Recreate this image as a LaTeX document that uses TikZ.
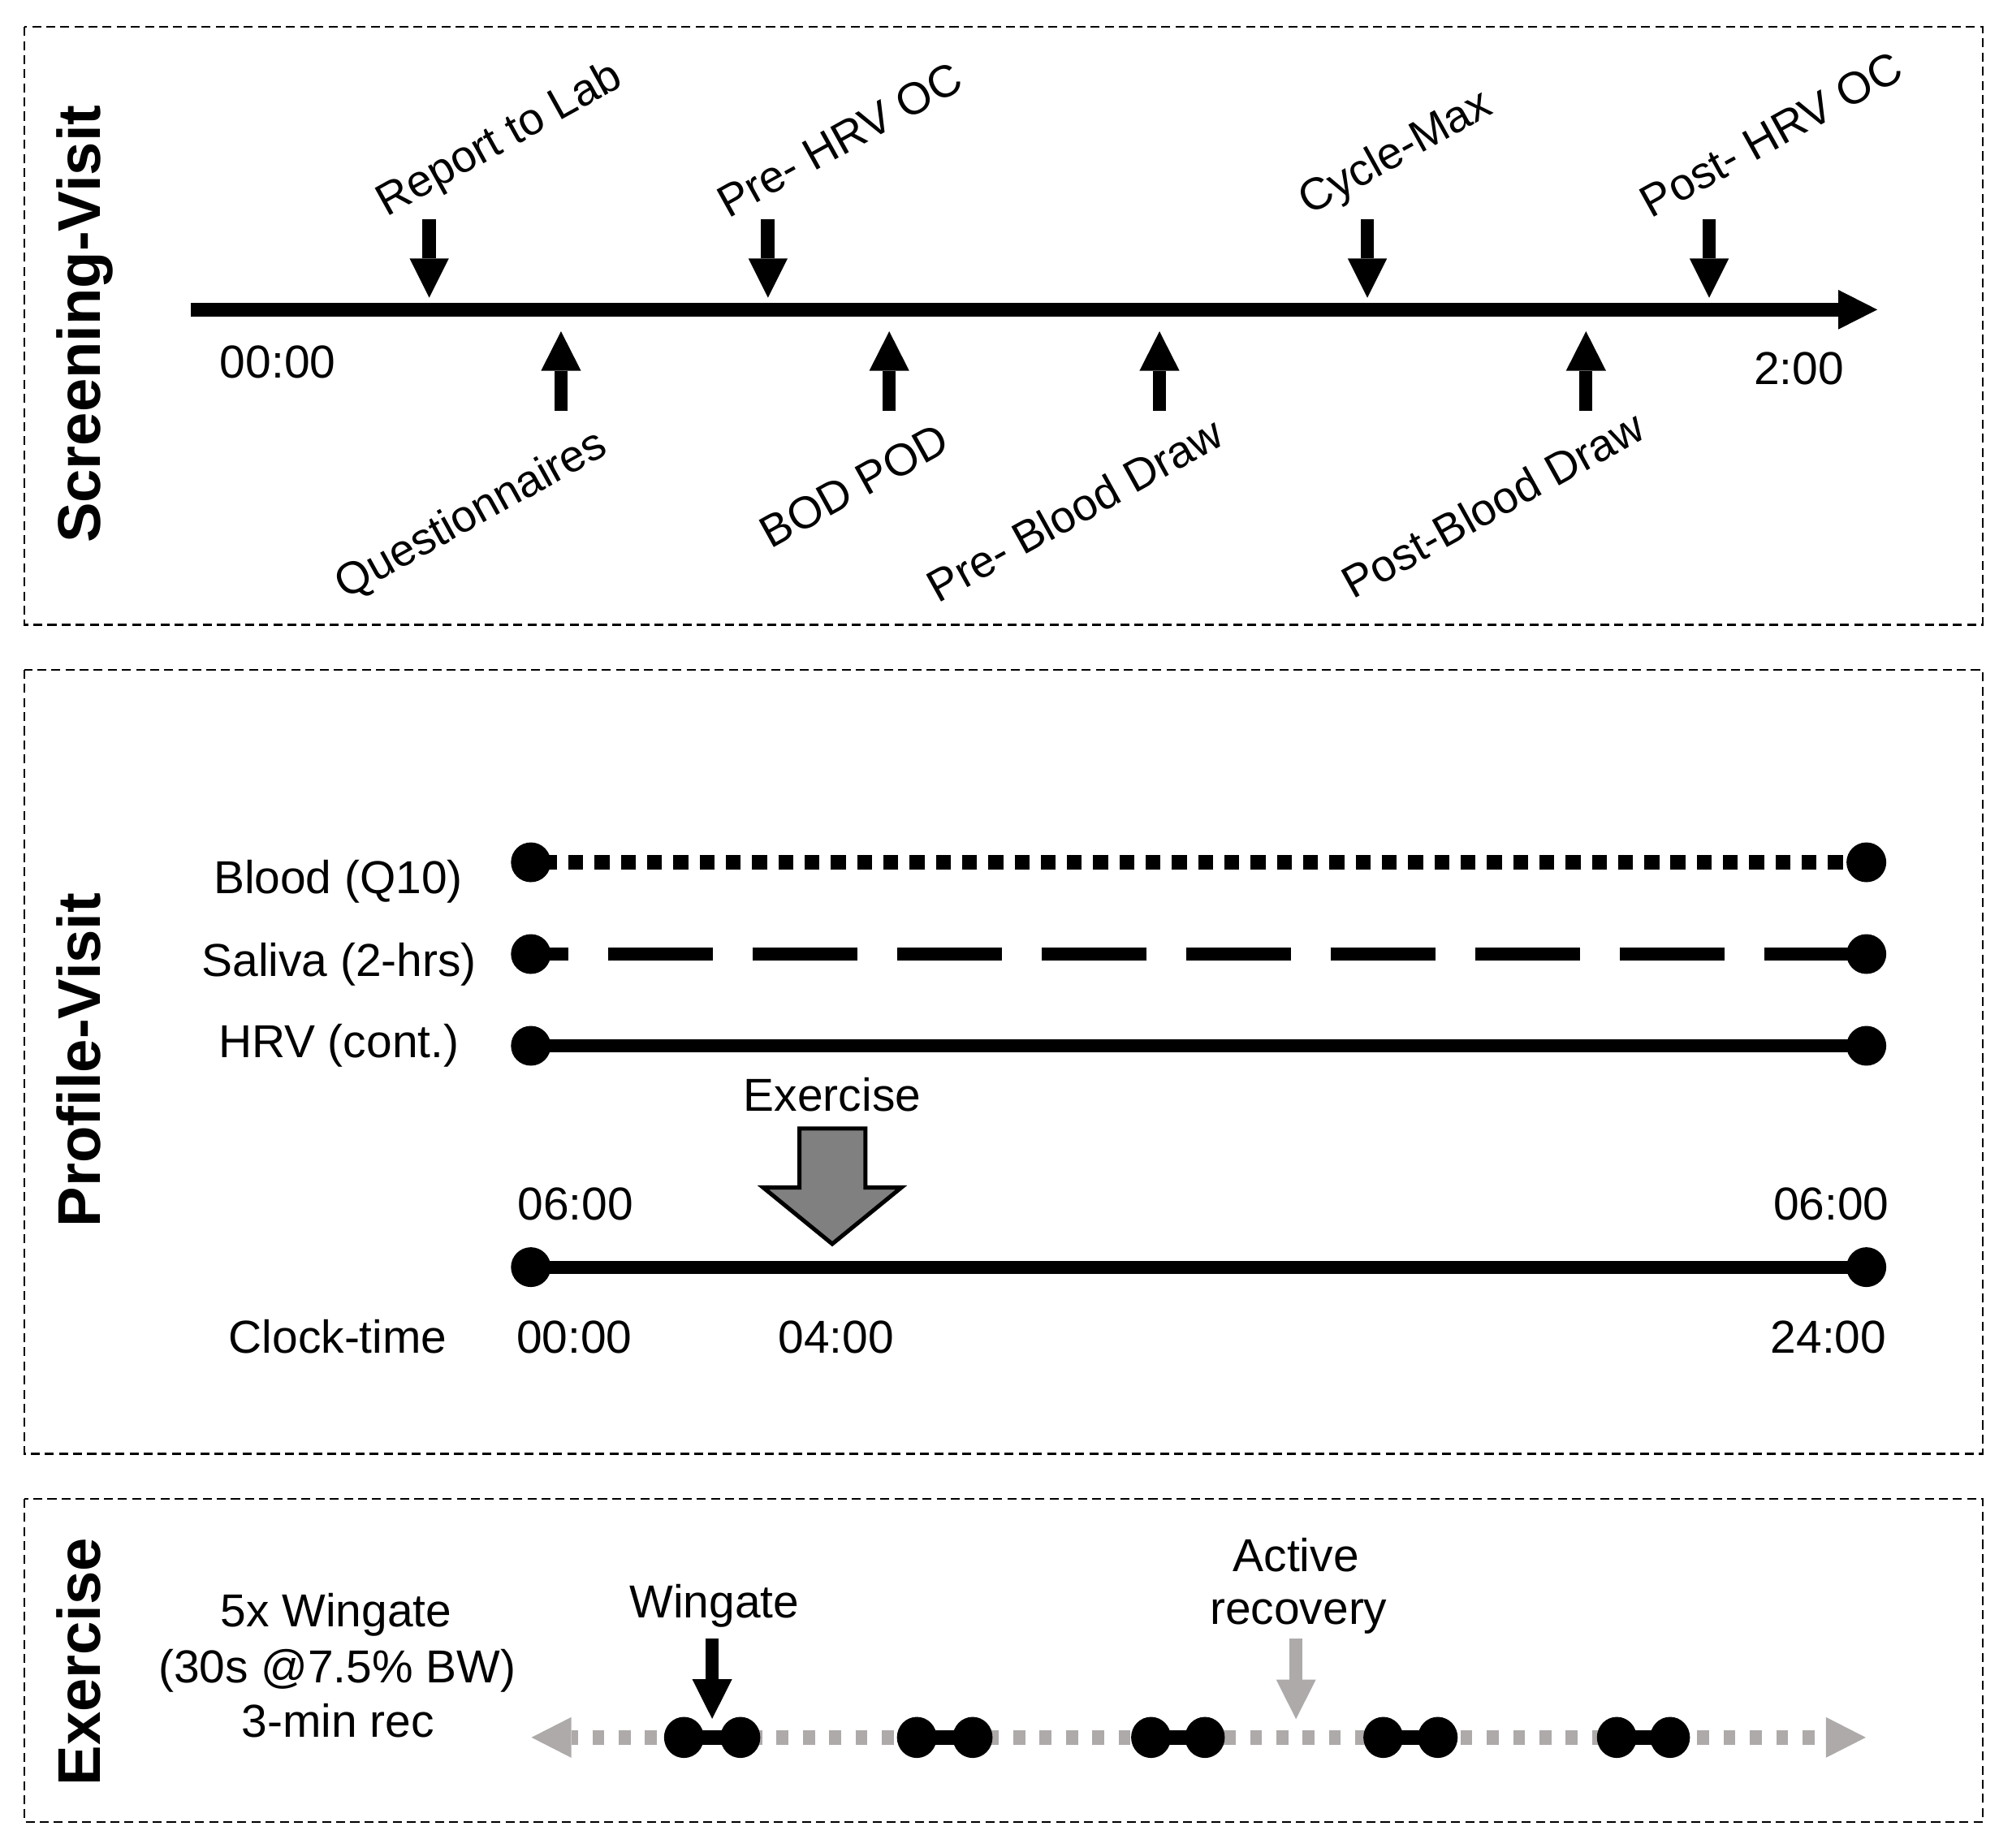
\documentclass[tikz,border=0pt]{standalone}
\usepackage{fontspec}
\setmainfont{Liberation Sans}
\usetikzlibrary{arrows.meta,shapes.geometric}
\definecolor{lgray}{HTML}{AEAAAA}
\definecolor{mgray}{HTML}{808080}
\begin{document}
\begin{tikzpicture}[x=0.5pt,y=-0.5pt,
  panel/.style={draw=black,line width=0.75pt,dash pattern=on 3.5pt off 2pt},
  txt/.style={inner sep=0pt,anchor=base,font=\fontsize{18}{21.6}\selectfont},
  slant/.style={inner sep=0pt,rotate=29,font=\fontsize{17.5}{21}\selectfont},
  side/.style={inner sep=0pt,rotate=90,anchor=base,font=\fontsize{23.5}{28}\selectfont\bfseries},
  axis/.style={line width=5.3pt,-{Triangle[width=15.4pt,length=15.2pt,line width=0pt]}},
  downarr/.style={line width=5.3pt,-{Triangle[width=15.3pt,length=15.3pt,line width=0pt]}},
  uparr/.style={line width=5pt,-{Triangle[width=15.6pt,length=15.4pt,line width=0pt]}},
  dot/.style={circle,fill=black,inner sep=0pt,minimum size=15.5pt},
  bloodline/.style={line width=5.4pt,dash pattern=on 5.8pt off 4.425pt,dash phase=5.8pt},
  salivaline/.style={line width=5pt,dash pattern=on 40.8pt off 15.5pt,dash phase=26.15pt},
  solidline/.style={line width=5pt},
  exline/.style={draw=lgray,line width=5.5pt,dash pattern=on 4.65pt off 5.6pt,dash phase=2pt,
    >={Triangle[width=15.8pt,length=15.5pt,line width=0pt]},<->},
  bell/.style={ellipse,fill=black,inner sep=0pt,minimum width=15.5pt,minimum height=16pt},
  bar/.style={line width=5.8pt},
  exarr/.style={line width=5pt,-{Triangle[width=15.5pt,length=15.4pt,line width=0pt]}},
]
\useasboundingbox (0,0) rectangle (1568,1440);

% ---------- panels ----------
\draw[panel] (19,21) rectangle (1545,487);
\draw[panel] (19,522) rectangle (1545,1133);
\draw[panel] (19,1168) rectangle (1545,1420);

% ---------- side labels ----------
\node[side] (sv) at (78,252.6) {Screening-Visit};
\node[side] (pv) at (78,826) {Profile-Visit};
\node[side] (ev) at (78,1295) {Exercise};

% ---------- screening timeline ----------
\draw[axis] (148.6,241.3) -- (1463,241.3);
\node[txt] (t0) at (216.5,294.5) {00:00};
\node[txt] (t1) at (1402,299.3) {2:00};

\foreach \x in {334.5,598.5,1065.6,1332}
  \draw[downarr] (\x,170.8) -- (\x,232);
\foreach \x in {437.2,693,903.6,1236}
  \draw[uparr] (\x,320) -- (\x,258.2);

\node[slant] (rl) at (389.9,109.7) {Report to Lab};
\node[slant] (ph) at (654.4,108.9) {Pre- HRV OC};
\node[slant] (cm) at (1088,120.2) {Cycle-Max};
\node[slant] (po) at (1380.4,104.9) {Post- HRV OC};
\node[slant] (qu) at (367.8,401.9) {Questionnaires};
\node[slant] (bp) at (665.7,378.5) {BOD POD};
\node[slant] (pb) at (837.6,397) {Pre- Blood Draw};
\node[slant] (pob) at (1163,393) {Post-Blood Draw};

% ---------- profile visit ----------
\node[dot] (bl1) at (413.7,672) {};
\node[dot] (bl2) at (1454.5,672) {};
\node[dot] (sa1) at (413.7,743.5) {};
\node[dot] (sa2) at (1454.5,743.5) {};
\node[dot] (hr1) at (413.7,815) {};
\node[dot] (hr2) at (1454.5,815) {};
\node[dot] (ck1) at (413.7,987.5) {};
\node[dot] (ck2) at (1454.5,987.5) {};
\draw[bloodline] (bl1.center) -- (bl2.center);
\draw[salivaline] (sa1.center) -- (sa2.center);
\draw[solidline] (hr1.center) -- (hr2.center);
\draw[solidline] (ck1.center) -- (ck2.center);

\node[txt] (lb) at (263.5,696.4) {Blood (Q10)};
\node[txt] (ls) at (264.3,760.7) {Saliva (2-hrs)};
\node[txt] (lh) at (264,824.4) {HRV (cont.)};
\node[txt] (lc) at (263.3,1054.7) {Clock-time};

\node[txt] (exl) at (648.6,866) {Exercise};
\draw[line width=1.6pt,fill=mgray,line join=miter]
  (623,879.4) -- (674.4,879.4) -- (674.4,925.4) -- (702.5,925.4) -- (648.6,969.4)
  -- (594.7,925.4) -- (623,925.4) -- cycle;

\node[txt] (s6a) at (448.5,951) {06:00};
\node[txt] (s6b) at (1427,951) {06:00};
\node[txt] (c00) at (447.5,1054.5) {00:00};
\node[txt] (c04) at (651.6,1054.5) {04:00};
\node[txt] (c24) at (1425,1054.5) {24:00};

% ---------- exercise ----------
\node[txt] (w1) at (262,1268) {5x Wingate};
\node[txt] (w2) at (262.8,1311.5) {(30s @7.5\% BW)};
\node[txt] (w3) at (263.5,1354) {3-min rec};

\coordinate (exL) at (414.2,1354);
\coordinate (exR) at (1454,1354);
\draw[exline] (exL) -- (exR);

\foreach \i/\a/\b in {1/533/577,2/714.5/758,3/897/939,4/1078/1120.5,5/1260/1301.5}{
  \draw[bar] (\a,1354) -- (\b,1354);
  \node[bell] (wa\i) at (\a,1354) {};
  \node[bell] (wb\i) at (\b,1354) {};
}

\node[txt] (wl) at (556.7,1261) {Wingate};
\draw[exarr] (555,1277) -- (555,1339.5);
\node[txt] (ar1) at (1010,1225) {Active};
\node[txt] (ar2) at (1012,1266) {recovery};
\draw[exarr,draw=lgray,fill=lgray] (1010,1277) -- (1010,1339.7);

\end{tikzpicture}
\end{document}
